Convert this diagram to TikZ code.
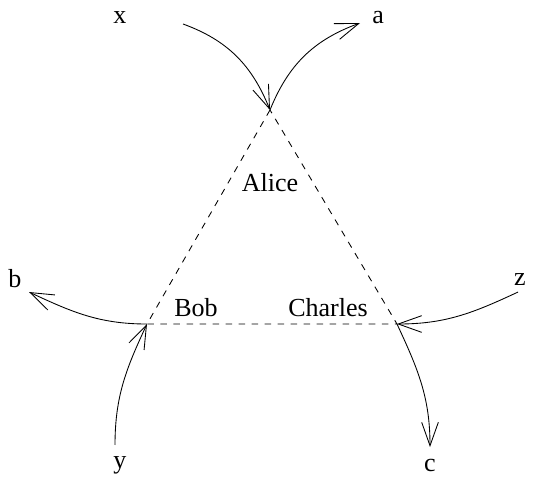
\documentclass[tikz,border=0pt]{standalone}
\usepackage{fontspec}
\setmainfont{Liberation Serif}
\usetikzlibrary{arrows.meta}
\begin{document}
\begin{tikzpicture}[every node/.style={font=\large},
  flow/.style={thin,-{Straight Barb[length=3.8mm,width=2.7mm]}}]
\useasboundingbox (0,0) rectangle (8.748,7.744);
% the three parties
\coordinate (A) at (4.374,5.962);
\coordinate (B) at (2.381,2.495);
\coordinate (C) at (6.431,2.495);
\draw[thin,dashed] (A) -- (B) -- (C) -- cycle;
\node (alice) at (4.374,4.779) {Alice};
\node (bob) at (3.175,2.754) {Bob};
\node (charles) at (5.314,2.754) {Charles};
% outside labels and arrow ends
\foreach \n/\x/\y in {x/1.944/7.452,a/6.124/7.452,b/0.243/3.224,z/8.424/3.208,y/1.944/0.211,c/6.966/0.211}
  \node (\n) at (\x,\y) {\n};
\coordinate (xs) at (2.965,7.355);
\coordinate (at) at (5.832,7.371);
\coordinate (bt) at (0.470,3.013);
\coordinate (ys) at (1.863,0.535);
\coordinate (zs) at (8.392,3.013);
\coordinate (ct) at (6.966,0.502);
% in and out
\draw[flow] (xs) to[out=-20,in=112] (A);
\draw[flow] (A) to[out=68,in=200] (at);
\draw[flow] (B) to[out=180,in=-25] (bt);
\draw[flow] (ys) to[out=90,in=-115] (B);
\draw[flow] (zs) to[out=205,in=0] (C);
\draw[flow] (C) to[out=-65,in=90] (ct);
\end{tikzpicture}
\end{document}
